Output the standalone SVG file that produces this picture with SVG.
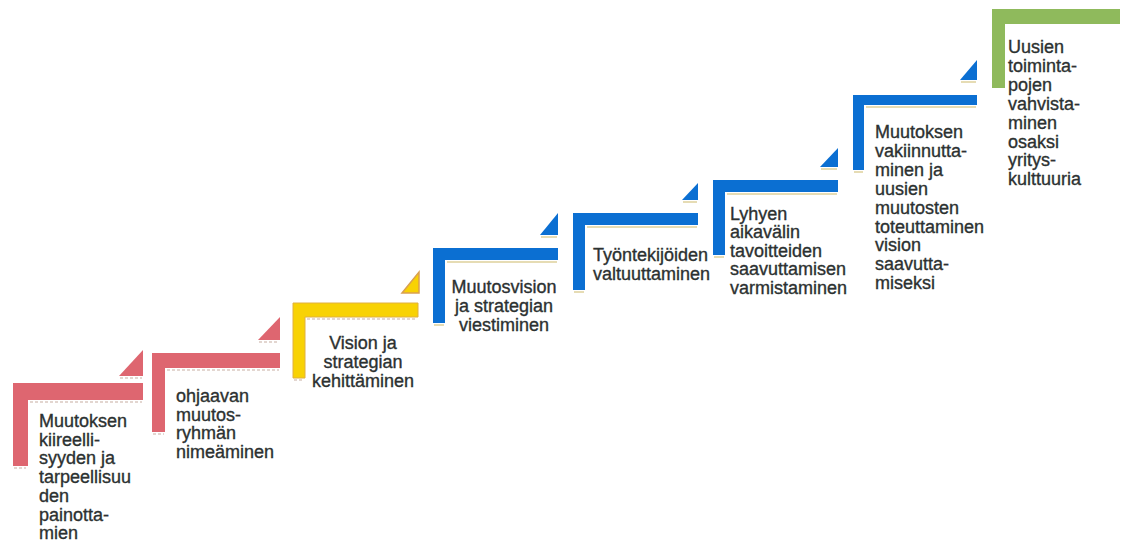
<svg xmlns="http://www.w3.org/2000/svg" width="1127" height="543" viewBox="0 0 1127 543">
<style>
.t{font-family:"Liberation Sans",Arial,sans-serif;font-size:18px;fill:#2c3131;stroke:#2c3131;stroke-width:0.35}
.c{text-anchor:middle}
.red{fill:#de6670}
.yel{fill:#f8d204}
.yelt{fill:#f8d204;stroke:#d9a050;stroke-width:1.5}
.blu{fill:#0b6fd2}
.grn{fill:#8fba5c}
.sh{stroke:#e6dcb4;stroke-width:2;fill:none}
.shr{stroke:#e3d6d0;stroke-width:2;fill:none;stroke-dasharray:3 2}
</style>
<rect width="1127" height="543" fill="#ffffff"/>
<g id="step1">
<path class="red" d="M13,383 H143 V400 H28 V466 H13 Z"/>
<path class="red" d="M119,376 L143,350 V376 Z"/>
<path class="shr" d="M30,402 H142 M14,468 H26 M120,378 H142"/>
<text class="t" x="39"><tspan x="39" y="427">Muutoksen</tspan><tspan x="39" y="445.7">kiireelli-</tspan><tspan x="39" y="464.4">syyden ja</tspan><tspan x="39" y="483.1">tarpeellisuu</tspan><tspan x="39" y="501.8">den</tspan><tspan x="39" y="520.5">painotta-</tspan><tspan x="39" y="539.2">mien</tspan></text>
</g>
<g id="step2">
<path class="red" d="M152,353 H280 V368 H165 V432 H152 Z"/>
<path class="red" d="M258,340 L280,317 V340 Z"/>
<path class="shr" d="M167,370 H279 M153,434 H164 M259,342 H279"/>
<text class="t"><tspan x="176" y="402">ohjaavan</tspan><tspan x="176" y="420.7">muutos-</tspan><tspan x="176" y="439.4">ryhmän</tspan><tspan x="176" y="458.1">nimeäminen</tspan></text>
</g>
<g id="step3">
<path class="yel" d="M293,303 H418 V317 H305 V378 H293 Z" stroke="#e0b040" stroke-width="1"/>
<path class="yelt" d="M402,293 L419,272 V293 Z"/>
<path class="shr" d="M307,319 H417 M294,380 H304"/>
<text class="t c"><tspan x="363" y="349">Vision ja</tspan><tspan x="363" y="368">strategian</tspan><tspan x="363" y="387">kehittäminen</tspan></text>
</g>
<g id="step4">
<path class="blu" d="M433,248 H558 V260 H445 V323 H433 Z"/>
<path class="blu" d="M540,235 L558,213 V235 Z"/>
<path class="sh" d="M447,262 H557 M434,325 H444 M541,237 H557"/>
<text class="t c"><tspan x="504" y="293">Muutosvision</tspan><tspan x="504" y="312">ja strategian</tspan><tspan x="504" y="331">viestiminen</tspan></text>
</g>
<g id="step5">
<path class="blu" d="M573,213 H698 V225 H585 V290 H573 Z"/>
<path class="blu" d="M682,200 L698,183 V200 Z"/>
<path class="sh" d="M587,227 H697 M574,292 H584 M683,202 H697"/>
<text class="t"><tspan x="593" y="261">Työntekijöiden</tspan><tspan x="593" y="279.5">valtuuttaminen</tspan></text>
</g>
<g id="step6">
<path class="blu" d="M713,180 H838 V192 H725 V255 H713 Z"/>
<path class="blu" d="M820,167 L838,148 V167 Z"/>
<path class="sh" d="M727,194 H837 M714,257 H724 M821,169 H837"/>
<text class="t"><tspan x="730" y="220">Lyhyen</tspan><tspan x="730" y="238.4">aikavälin</tspan><tspan x="730" y="256.8">tavoitteiden</tspan><tspan x="730" y="275.2">saavuttamisen</tspan><tspan x="730" y="293.6">varmistaminen</tspan></text>
</g>
<g id="step7">
<path class="blu" d="M853,95 H977 V105 H864 V170 H853 Z"/>
<path class="blu" d="M960,80 L977,60 V80 Z"/>
<path class="sh" d="M866,107 H976 M854,172 H863 M961,82 H976"/>
<text class="t"><tspan x="875" y="138">Muutoksen</tspan><tspan x="875" y="156.9">vakiinnutta-</tspan><tspan x="875" y="175.8">minen ja</tspan><tspan x="875" y="194.7">uusien</tspan><tspan x="875" y="213.6">muutosten</tspan><tspan x="875" y="232.5">toteuttaminen</tspan><tspan x="875" y="251.4">vision</tspan><tspan x="875" y="270.3">saavutta-</tspan><tspan x="875" y="289.2">miseksi</tspan></text>
</g>
<g id="step8">
<path class="grn" d="M992,9 H1120 V24 H1005 V88 H992 Z"/>
<text class="t"><tspan x="1008" y="53">Uusien</tspan><tspan x="1008" y="71.9">toiminta-</tspan><tspan x="1008" y="90.8">pojen</tspan><tspan x="1008" y="109.7">vahvista-</tspan><tspan x="1008" y="128.6">minen</tspan><tspan x="1008" y="147.5">osaksi</tspan><tspan x="1008" y="166.4">yritys-</tspan><tspan x="1008" y="185.3">kulttuuria</tspan></text>
</g>
<g id="connectors"></g>
</svg>
